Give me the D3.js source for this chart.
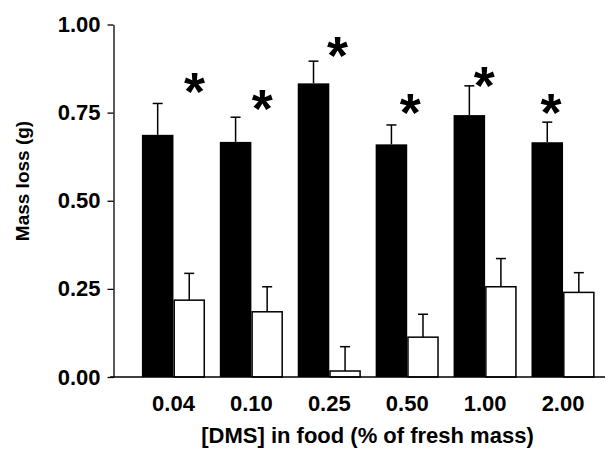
<!DOCTYPE html>
<html>
<head>
<meta charset="utf-8">
<script src="https://cdn.jsdelivr.net/npm/d3@7"></script>
<style>
  body { margin: 0; background: #fff; }
  text { font-family: "Liberation Sans", Arial, sans-serif; font-weight: bold; fill: #000; }
</style>
</head>
<body>
<svg id="chart" width="609" height="449"></svg>
<script>
// dms concentrations (% of fresh mass)
var categories = ["0.04", "0.10", "0.25", "0.50", "1.00", "2.00"];
// black bars
var blackMean = [0.687, 0.667, 0.833, 0.660, 0.743, 0.666];
var blackErr  = [0.089, 0.070, 0.063, 0.055, 0.083, 0.057];
// white bars
var whiteMean = [0.218, 0.185, 0.017, 0.113, 0.256, 0.240];
var whiteErr  = [0.076, 0.071, 0.069, 0.065, 0.080, 0.056];
// asterisks: height (g) and sideways shift (fraction of a group step)
var starLevel = [0.845, 0.798, 0.948, 0.786, 0.863, 0.786];
var starShift = [0.27, 0.14, 0.105, 0.04, -0.01, -0.155];
var yTicks = [0, 0.25, 0.5, 0.75, 1.0];

var svg = d3.select("#chart");

var y = d3.scaleLinear().domain([0, 1]).range([377, 24.5]);
var x = d3.scaleBand().domain(categories)
    .range([134.5, 602])
    .paddingInner(0.19)
    .paddingOuter(0.095);
var sub = d3.scaleBand().domain(["black", "white"]).range([0, x.bandwidth()]);

var rows = categories.map(function(c, i) {
    return {cat: c, bm: blackMean[i], be: blackErr[i], wm: whiteMean[i], we: whiteErr[i],
            sl: starLevel[i], ss: starShift[i]};
});

// y axis
var yAxis = svg.append("g")
    .attr("transform", "translate(113.5,0)")
    .call(d3.axisLeft(y).tickValues(yTicks).tickFormat(d3.format(".2f"))
        .tickSize(6).tickSizeOuter(0).tickPadding(7));
yAxis.selectAll("path, line").attr("stroke", "#000").attr("stroke-width", 1.3);
yAxis.selectAll("text").style("font-size", "22px")
    .style("font-family", "'Liberation Sans', Arial, sans-serif").style("font-weight", "bold");

// x axis labels (no ticks)
var xAxis = svg.append("g")
    .attr("transform", "translate(0," + y(0) + ")")
    .call(d3.axisBottom(x).tickSize(0).tickPadding(18));
xAxis.select(".domain").remove();
xAxis.selectAll("text").style("font-size", "22px")
    .style("font-family", "'Liberation Sans', Arial, sans-serif").style("font-weight", "bold");

// bars
var groups = svg.selectAll(".grp").data(rows).enter().append("g")
    .attr("class", "grp")
    .attr("transform", function(d) { return "translate(" + x(d.cat) + ",0)"; });

// error bars (upper only), drawn first so white bar outline sits on top
function errBar(sel, key, mean, err) {
    var cx = sub(key) + sub.bandwidth() / 2;
    sel.append("line")
        .attr("x1", cx).attr("x2", cx)
        .attr("y1", function(d) { return y(d[mean]); })
        .attr("y2", function(d) { return y(d[mean] + d[err]); })
        .attr("stroke", "#000").attr("stroke-width", 1.5);
    sel.append("line")
        .attr("x1", cx - 5).attr("x2", cx + 5)
        .attr("y1", function(d) { return y(d[mean] + d[err]); })
        .attr("y2", function(d) { return y(d[mean] + d[err]); })
        .attr("stroke", "#000").attr("stroke-width", 1.5);
}
errBar(groups, "black", "bm", "be");
errBar(groups, "white", "wm", "we");

groups.append("rect")
    .attr("x", sub("black"))
    .attr("width", sub.bandwidth())
    .attr("y", function(d) { return y(d.bm); })
    .attr("height", function(d) { return y(0) - y(d.bm); })
    .attr("fill", "#000");

groups.append("rect")
    .attr("x", sub("white") + 0.75)
    .attr("width", sub.bandwidth() - 1.5)
    .attr("y", function(d) { return y(d.wm); })
    .attr("height", function(d) { return y(0) - y(d.wm); })
    .attr("fill", "#fff")
    .attr("stroke", "#000").attr("stroke-width", 1.5);

// baseline
svg.append("line")
    .attr("x1", 110).attr("x2", 605)
    .attr("y1", y(0)).attr("y2", y(0))
    .attr("stroke", "#000").attr("stroke-width", 1.5);

// asterisks, centred on their target by bbox
groups.each(function(d) {
    var g = d3.select(this);
    var t = g.append("text").text("*").style("font-size", "54px");
    var b = t.node().getBBox();
    var cx = x.bandwidth() / 2 + d.ss * x.step();
    var cy = y(d.sl);
    t.attr("x", cx - (b.x + b.width / 2)).attr("y", cy - (b.y + b.height * 0.3));
});

// axis titles
svg.append("text")
    .attr("x", 367.5).attr("y", 443)
    .attr("text-anchor", "middle")
    .style("font-size", "22px")
    .text("[DMS] in food (% of fresh mass)");

svg.append("text")
    .attr("transform", "translate(29,181) rotate(-90)")
    .attr("text-anchor", "middle")
    .style("font-size", "19px")
    .text("Mass loss (g)");
</script>
</body>
</html>
